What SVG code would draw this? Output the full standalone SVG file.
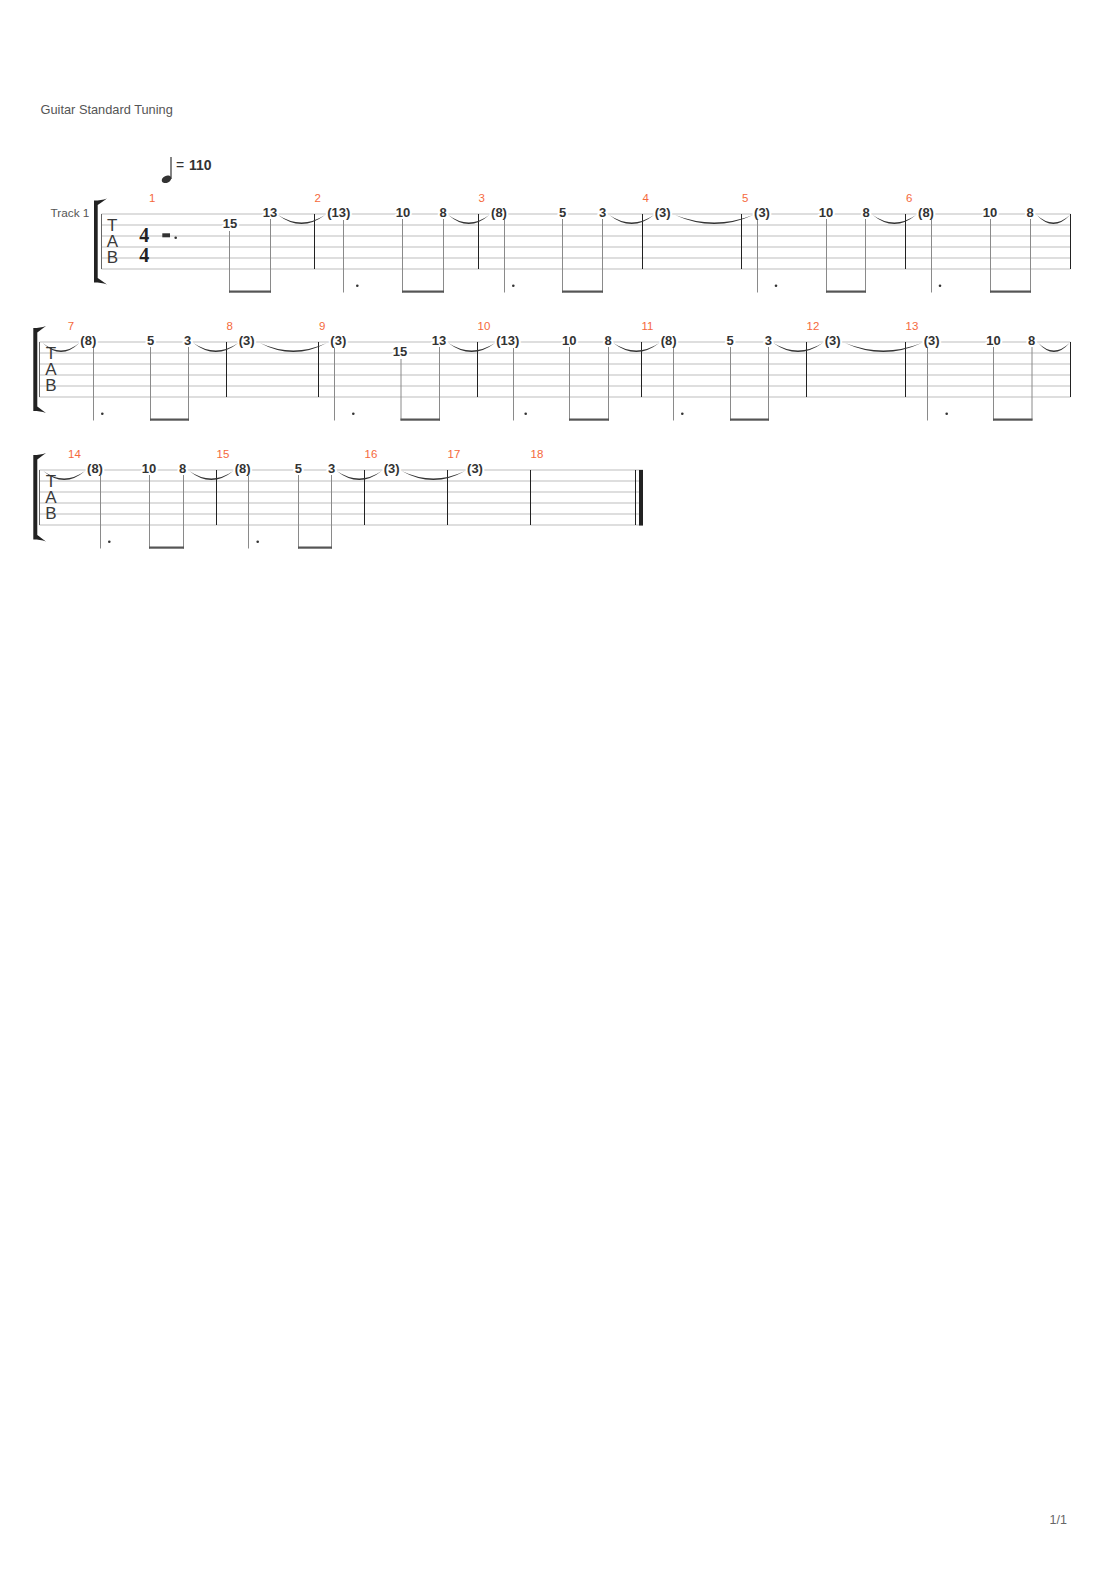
<svg xmlns="http://www.w3.org/2000/svg" width="1110" height="1570" viewBox="0 0 1110 1570">
<style>
text{font-family:"Liberation Sans",Arial,sans-serif}
.lbl{font-size:12.8px;fill:#555}
.trk{font-size:11.8px;fill:#555}
.mn{font-size:11.5px;fill:#f5693c}
.f{font-size:13px;font-weight:bold;fill:#333;text-anchor:middle;stroke:#fff;stroke-width:4px;paint-order:stroke;stroke-linejoin:round}
.tab{font-size:17px;fill:#3a3a3a;text-anchor:middle}
.ts{font-family:"Liberation Serif",serif;font-size:20px;font-weight:bold;fill:#222;text-anchor:middle}
.staff{stroke:#bdbdbd;stroke-width:1;fill:none}
.bar{stroke:#222;stroke-width:1;fill:none}
.stem{stroke:#8a8a8a;stroke-width:1;fill:none}
.beam{fill:#555}
.dot{fill:#333}
.tie{fill:#333}
.brk{fill:#222}
.edge{stroke:#666;stroke-width:1}
</style>
<text class="lbl" x="40.5" y="114">Guitar Standard Tuning</text>
<text x="1067" y="1524" style="font-size:12.5px;fill:#666;text-anchor:end">1/1</text>

<g id="tempo">
<ellipse cx="166.5" cy="179.3" rx="5" ry="3.5" transform="rotate(-25 166.5 179.3)" fill="#333"/>
<line x1="171" y1="157" x2="171" y2="179" stroke="#333" stroke-width="1.2"/>
<text x="176" y="170" style="font-size:14px;fill:#333">=</text>
<text x="189" y="170" style="font-size:14px;font-weight:bold;fill:#333">110</text>
</g>

<!-- ROW 1 -->
<g id="row1-staff">
<text class="trk" x="50.5" y="216.7">Track 1</text>
<path class="brk" d="M94 200.5 C99 200.5 103 200 107 198.5 C103 201.5 100 203.5 97.7 205 L97.7 278 C100 279.5 103 281.5 107 284.5 C103 283 99 282.5 94 282.5 Z"/>
<path class="staff" d="M101.5 214H1070.5M101.5 225H1070.5M101.5 236H1070.5M101.5 247H1070.5M101.5 258H1070.5M101.5 269H1070.5"/>
<line class="edge" x1="101.5" y1="214" x2="101.5" y2="269"/>
<text class="tab" x="112.3" y="230.5">T</text>
<text class="tab" x="112.3" y="246.8">A</text>
<text class="tab" x="112.3" y="263">B</text>
<text class="ts" x="144.3" y="241.7">4</text>
<text class="ts" x="144.3" y="261.5">4</text>
<rect x="162.3" y="233.3" width="7.7" height="4" fill="#333"/>
<circle cx="175.7" cy="237.8" r="1.3" fill="#333"/>
<path class="bar" d="M314.5 214V269M478.5 214V269M642.5 214V269M741.5 214V269M905.5 214V269M1070.5 214V269"/>
</g>
<g id="row1-measures">
<text class="mn" x="149" y="202">1</text>
<text class="mn" x="314.5" y="202">2</text>
<text class="mn" x="478.5" y="202">3</text>
<text class="mn" x="642.5" y="202">4</text>
<text class="mn" x="742" y="202">5</text>
<text class="mn" x="906" y="202">6</text>
</g>
<g id="row1-notes">
<text class="f" x="230" y="228">15</text>
<text class="f" x="270" y="217">13</text>
<text class="f" x="338.7" y="217">(13)</text>
<text class="f" x="403" y="217">10</text>
<text class="f" x="443" y="217">8</text>
<text class="f" x="499" y="217">(8)</text>
<text class="f" x="562.7" y="217">5</text>
<text class="f" x="602.7" y="217">3</text>
<text class="f" x="662.7" y="217">(3)</text>
<text class="f" x="762" y="217">(3)</text>
<text class="f" x="826" y="217">10</text>
<text class="f" x="866" y="217">8</text>
<text class="f" x="926" y="217">(8)</text>
<text class="f" x="990" y="217">10</text>
<text class="f" x="1030" y="217">8</text>
<path class="stem" d="M229.5 231V292.5M270.5 219V292.5M402.5 219V292.5M443.5 219V292.5M562.5 219V292.5M602.5 219V292.5M826.5 219V292.5M865.5 219V292.5M990.5 219V292.5M1030.5 219V292.5"/>
<path class="stem" d="M343.5 220V292.5M504.5 220V292.5M757.5 220V292.5M931.5 220V292.5"/>
<g class="beam">
<rect x="229" y="290.5" width="42" height="2.2"/>
<rect x="402" y="290.5" width="42" height="2.2"/>
<rect x="562" y="290.5" width="41" height="2.2"/>
<rect x="826" y="290.5" width="40" height="2.2"/>
<rect x="990" y="290.5" width="41" height="2.2"/>
</g>
<g class="dot">
<circle cx="357.3" cy="285.7" r="1.3"/>
<circle cx="513.3" cy="285.7" r="1.3"/>
<circle cx="776" cy="285.7" r="1.3"/>
<circle cx="940" cy="285.7" r="1.3"/>
</g>
</g>

<!-- ROW 2 -->
<g id="row2-staff">
<path class="brk" d="M33.3 328 C38 328 42 327.5 46 326 C42 329 39.5 331 37.3 332.5 L37.3 406.5 C39.5 408 42 410 46 413 C42 411.5 38 411 33.3 411 Z"/>
<path class="staff" d="M39.5 342H1070.5M39.5 353H1070.5M39.5 364H1070.5M39.5 375H1070.5M39.5 386H1070.5M39.5 397H1070.5"/>
<line class="edge" x1="39.5" y1="342" x2="39.5" y2="397"/>
<text class="tab" x="51" y="358.5">T</text>
<text class="tab" x="51" y="374.8">A</text>
<text class="tab" x="51" y="391">B</text>
<path class="bar" d="M226.5 342V397M318.5 342V397M477.5 342V397M641.5 342V397M806.5 342V397M905.5 342V397M1070.5 342V397"/>
</g>
<g id="row2-measures">
<text class="mn" x="67.7" y="330">7</text>
<text class="mn" x="226.5" y="330">8</text>
<text class="mn" x="319" y="330">9</text>
<text class="mn" x="477.5" y="330">10</text>
<text class="mn" x="641.5" y="330">11</text>
<text class="mn" x="806.5" y="330">12</text>
<text class="mn" x="905.5" y="330">13</text>
</g>
<g id="row2-notes">
<text class="f" x="88.3" y="345">(8)</text>
<text class="f" x="150.7" y="345">5</text>
<text class="f" x="187.7" y="345">3</text>
<text class="f" x="246.7" y="345">(3)</text>
<text class="f" x="338.3" y="345">(3)</text>
<text class="f" x="400" y="356">15</text>
<text class="f" x="439" y="345">13</text>
<text class="f" x="507.7" y="345">(13)</text>
<text class="f" x="569.3" y="345">10</text>
<text class="f" x="608" y="345">8</text>
<text class="f" x="668.7" y="345">(8)</text>
<text class="f" x="730" y="345">5</text>
<text class="f" x="768.3" y="345">3</text>
<text class="f" x="832.7" y="345">(3)</text>
<text class="f" x="931.7" y="345">(3)</text>
<text class="f" x="993.5" y="345">10</text>
<text class="f" x="1031.7" y="345">8</text>
<path class="stem" d="M150.5 347V420.5M188.5 347V420.5M401 359V420.5M439.5 347V420.5M569.5 347V420.5M608.5 347V420.5M730.5 347V420.5M768.5 347V420.5M993.5 347V420.5M1032 347V420.5"/>
<path class="stem" d="M93.5 348V420.5M334.5 348V420.5M513.5 348V420.5M673.5 348V420.5M927.5 348V420.5"/>
<g class="beam">
<rect x="150" y="418.5" width="39" height="2.2"/>
<rect x="400.5" y="418.5" width="39.5" height="2.2"/>
<rect x="569" y="418.5" width="40" height="2.2"/>
<rect x="730" y="418.5" width="39" height="2.2"/>
<rect x="993" y="418.5" width="39.5" height="2.2"/>
</g>
<g class="dot">
<circle cx="102.3" cy="413.7" r="1.3"/>
<circle cx="353.3" cy="413.7" r="1.3"/>
<circle cx="525.7" cy="413.7" r="1.3"/>
<circle cx="682.3" cy="413.7" r="1.3"/>
<circle cx="946.7" cy="413.7" r="1.3"/>
</g>
</g>

<!-- ROW 3 -->
<g id="row3-staff">
<path class="brk" d="M33.3 455 C38 455 42 454.5 46 453 C42 456 39.5 458 37.3 459.5 L37.3 535 C39.5 536.5 42 538.5 46 541.5 C42 540 38 539.5 33.3 539.5 Z"/>
<path class="staff" d="M39.5 470H643M39.5 481H643M39.5 492H643M39.5 503H643M39.5 514H643M39.5 525H643"/>
<line class="edge" x1="39.5" y1="470" x2="39.5" y2="525"/>
<text class="tab" x="51" y="486.5">T</text>
<text class="tab" x="51" y="502.8">A</text>
<text class="tab" x="51" y="519">B</text>
<path class="bar" d="M216.5 470V525M364.5 470V525M447.5 470V525M530.5 470V525M635.5 470V525"/>
<rect x="639" y="470" width="4" height="55.5" fill="#222"/>
</g>
<g id="row3-measures">
<text class="mn" x="68" y="458">14</text>
<text class="mn" x="216.5" y="458">15</text>
<text class="mn" x="364.5" y="458">16</text>
<text class="mn" x="447.5" y="458">17</text>
<text class="mn" x="530.5" y="458">18</text>
</g>
<g id="row3-notes">
<text class="f" x="95" y="473">(8)</text>
<text class="f" x="149" y="473">10</text>
<text class="f" x="182.7" y="473">8</text>
<text class="f" x="242.7" y="473">(8)</text>
<text class="f" x="298.3" y="473">5</text>
<text class="f" x="331.7" y="473">3</text>
<text class="f" x="391.7" y="473">(3)</text>
<text class="f" x="475" y="473">(3)</text>
<path class="stem" d="M149.5 475V548.5M183.5 475V548.5M298.5 475V548.5M331.5 475V548.5"/>
<path class="stem" d="M100.5 476V548.5M248.5 476V548.5"/>
<g class="beam">
<rect x="149" y="546.5" width="35" height="2.2"/>
<rect x="298" y="546.5" width="34" height="2.2"/>
</g>
<g class="dot">
<circle cx="109.3" cy="541.7" r="1.3"/>
<circle cx="257.7" cy="541.7" r="1.3"/>
</g>
</g>

<g id="connectors-ties" class="tie">
<path d="M278 215Q301.5 233 325 215Q301.5 230 278 215Z"/>
<path d="M448.3 215Q468.8 233 489.3 215Q468.8 230 448.3 215Z"/>
<path d="M609.3 215Q631.65 233 654 215Q631.65 230 609.3 215Z"/>
<path d="M675 215Q714.15 233 753.3 215Q714.15 230 675 215Z"/>
<path d="M872.7 215Q894.35 233 916 215Q894.35 230 872.7 215Z"/>
<path d="M1036.7 215Q1053.35 233 1070 215Q1053.35 230 1036.7 215Z"/>

<path d="M42.7 343Q61 361 79.3 343Q61 358 42.7 343Z"/>
<path d="M193.3 343Q215.8 361 238.3 343Q215.8 358 193.3 343Z"/>
<path d="M260 343Q293.35 361 326.7 343Q293.35 358 260 343Z"/>
<path d="M448.3 343Q471.65 361 495 343Q471.65 358 448.3 343Z"/>
<path d="M613.3 343Q636.3 361 659.3 343Q636.3 358 613.3 343Z"/>
<path d="M773.3 343Q798 361 822.7 343Q798 358 773.3 343Z"/>
<path d="M845 343Q883.35 361 921.7 343Q883.35 358 845 343Z"/>
<path d="M1038.3 343Q1053.9 361 1069.5 343Q1053.9 358 1038.3 343Z"/>

<path d="M43.3 471Q64.15 489 85 471Q64.15 486 43.3 471Z"/>
<path d="M189.3 471Q211.3 489 233.3 471Q211.3 486 189.3 471Z"/>
<path d="M336.7 471Q359.2 489 381.7 471Q359.2 486 336.7 471Z"/>
<path d="M401.7 471Q433.35 489 465 471Q433.35 486 401.7 471Z"/>
</g>
</svg>
